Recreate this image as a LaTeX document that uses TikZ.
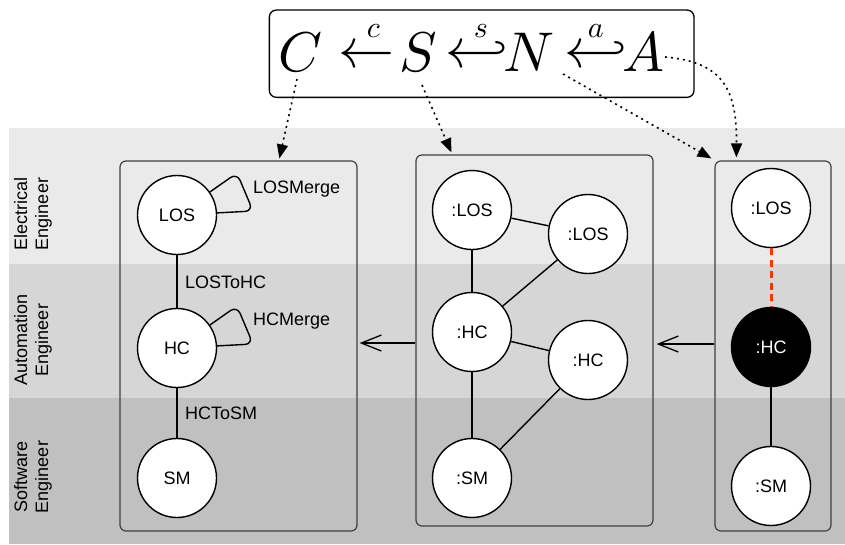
\documentclass[tikz,border=0pt]{standalone}
\usepackage[no-math]{fontspec}
\setmainfont{Liberation Sans}
\usepackage{graphicx}
\usetikzlibrary{arrows.meta,calc}
\definecolor{bandA}{RGB}{234,234,234}
\definecolor{bandB}{RGB}{214,214,214}
\definecolor{bandC}{RGB}{192,192,192}
\definecolor{linkred}{RGB}{255,51,0}
\newcommand{\lblarrow}[3]{\rlap{\hspace*{#1}\raisebox{29.5pt}{\makebox[0pt]{\scalebox{3}{$#2$}}}}\scalebox{5.6}{$#3$}}
\begin{document}
\begin{tikzpicture}[x=1pt,y=-1pt,
  every node/.style={font=\fontsize{18}{21}\selectfont},
  obj/.style={circle,draw,line width=1.4pt,fill=white,minimum size=79pt,inner sep=0pt},
  objblack/.style={obj,fill=black,text=white},
  frame/.style={draw=black!75,line width=1.2pt,rounded corners=6pt,inner sep=0pt},
  fbox/.style={draw,line width=1.3pt,rounded corners=7pt,inner sep=0pt},
  fml/.style={inner sep=0pt,font=\fontsize{10}{12}\selectfont},
  link/.style={line width=1.4pt},
  lbl/.style={anchor=base west,inner sep=0pt},
  role/.style={rotate=90,align=center,inner sep=0pt},
  mapto/.style={line width=1.6pt,dash pattern=on 2pt off 4pt,-{Triangle[length=14pt,width=11pt]}},
  morph/.style={line width=1.3pt,-{Straight Barb[length=20pt,width=16pt,line width=1.3pt]}},
  reddash/.style={draw=linkred,line width=3pt,dash pattern=on 7pt off 4.5pt},
  ]
\useasboundingbox (0,0) rectangle (845,544);
\fill[white] (0,0) rectangle (845,544);
\fill[bandA] (9,128) rectangle (845,263.5);
\fill[bandB] (9,263.5) rectangle (845,398);
\fill[bandC] (9,398) rectangle (845,544);

% role labels
\node[role] (ee) at (33,214) {Electrical\\Engineer};
\node[role] (ae) at (33,340) {Automation\\Engineer};
\node[role] (se) at (33,477) {Software\\Engineer};

% formula
\node[fbox,minimum width=424.7pt,minimum height=87.3pt] (formula) at (481.7,53.7) {};
\node[fml,anchor=base] (fC) at (301,71.5) {\scalebox{5.6}{$C$}};
\node[fml,anchor=base] (fArr1) at (366.7,67.3) {\lblarrow{34.6pt}{c}{\leftarrow}};
\node[fml,anchor=base] (fS) at (418,71.5) {\scalebox{5.6}{$S$}};
\node[fml,anchor=base] (fArr2) at (476.7,67.3) {\lblarrow{35.4pt}{s}{\hookleftarrow}};
\node[fml,anchor=base] (fN) at (529,71.5) {\scalebox{5.6}{$N$}};
\node[fml,anchor=base] (fArr3) at (595.8,67.3) {\lblarrow{31.1pt}{a}{\hookleftarrow}};
\node[fml,anchor=base] (fA) at (643,71.5) {\scalebox{5.6}{$A$}};

% frames
\node[frame,minimum width=237pt,minimum height=370pt] (box1) at (238.5,346) {};
\node[frame,minimum width=237pt,minimum height=371pt] (box2) at (534.5,340.5) {};
\node[frame,minimum width=116pt,minimum height=370pt] (box3) at (773,346) {};

% box 1
\node[obj] (LOS) at (177,215) {LOS};
\node[obj] (HC) at (177,348) {HC};
\node[obj] (SM) at (177,478) {SM};
\draw[link] (LOS) -- (HC);
\draw[link] (HC) -- (SM);
\draw[link,rounded corners=8pt] (LOS.35) -- ($(LOS.center)+(60,-42)$) -- ($(LOS.center)+(76,-4)$) -- (LOS.3);
\draw[link,rounded corners=8pt] (HC.35) -- ($(HC.center)+(60,-42)$) -- ($(HC.center)+(76,-4)$) -- (HC.3);
\node[lbl] (losmerge) at (253,193) {LOSMerge};
\node[lbl] (lostohc) at (185,288) {LOSToHC};
\node[lbl] (hcmerge) at (253,325) {HCMerge};
\node[lbl] (hctosm) at (185,419) {HCToSM};

% box 2
\node[obj] (l1) at (472,210) {:LOS};
\node[obj] (l2) at (588,234) {:LOS};
\node[obj] (h1) at (472,332) {:HC};
\node[obj] (h2) at (588,360) {:HC};
\node[obj] (s1) at (472,478) {:SM};
\draw[link] (l1) -- (l2);
\draw[link] (l1) -- (h1);
\draw[link] (l2) -- (h1);
\draw[link] (h1) -- (h2);
\draw[link] (h1) -- (s1);
\draw[link] (h2) -- (s1);

% box 3
\node[obj] (l3) at (771,208) {:LOS};
\node[objblack] (h3) at (771,347) {:HC};
\node[obj] (s3) at (771,486) {:SM};
\draw[reddash] (l3) -- (h3);
\draw[link] (h3) -- (s3);

% morphisms between frames
\draw[morph] ($(box3.west)+(0,-2)$) -- ($(box2.east)+(3,3.5)$);
\draw[morph] ($(box2.west)+(0,2.5)$) -- ($(box1.east)+(2,-3)$);

% mapping arrows
\coordinate (cfrom) at (297,79);
\coordinate (sfrom) at (422,85);
\coordinate (nfrom) at (563,74);
\coordinate (afrom) at (665,57);
\coordinate (ctip) at ($(box1.north west)+(160,-2)$);
\coordinate (stip) at ($(box2.north west)+(36,-2)$);
\coordinate (ntip) at ($(box3.north west)+(-3,-2)$);
\coordinate (atip) at ($(box3.north west)+(22,-3)$);
\draw[mapto] (cfrom) -- (ctip);
\draw[mapto] (sfrom) -- (stip);
\draw[mapto] (nfrom) -- (ntip);
\draw[mapto] (afrom) .. controls (722,62) and (737,88) .. (atip);
\end{tikzpicture}
\end{document}
